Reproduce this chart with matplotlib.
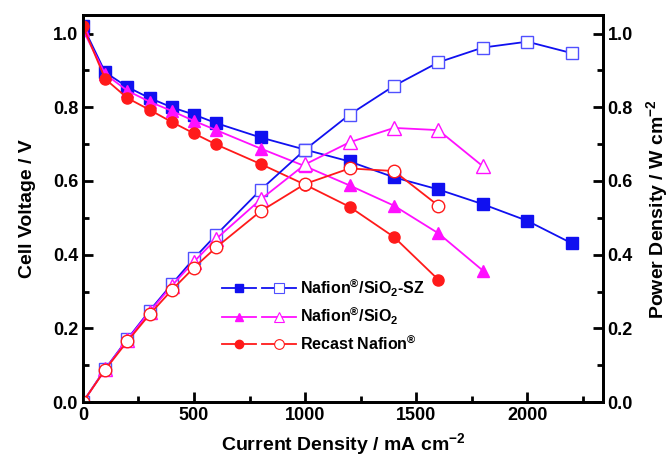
import numpy as np
import matplotlib
matplotlib.use('Agg')
import matplotlib.pyplot as plt
from matplotlib.lines import Line2D
from matplotlib.legend_handler import HandlerTuple
from matplotlib.ticker import MultipleLocator

plt.rcParams['font.family'] = ['Liberation Sans', 'DejaVu Sans']
plt.rcParams['font.weight'] = 'bold'
plt.rcParams['mathtext.fontset'] = 'custom'
plt.rcParams['mathtext.rm'] = 'Liberation Sans:bold'
plt.rcParams['mathtext.bf'] = 'Liberation Sans:bold'
plt.rcParams['mathtext.it'] = 'Liberation Sans:bold'
plt.rcParams['mathtext.default'] = 'bf'

# current density (mA cm-2)
i_sz = [0, 100, 200, 300, 400, 500, 600, 800, 1000, 1200, 1400, 1600, 1800, 2000, 2200]
i_si = [0, 100, 200, 300, 400, 500, 600, 800, 1000, 1200, 1400, 1600, 1800]
i_re = [0, 100, 200, 300, 400, 500, 600, 800, 1000, 1200, 1400, 1600]

# cell voltage (V)
v_sz = [1.02, 0.895, 0.855, 0.825, 0.80, 0.78, 0.757, 0.718, 0.685, 0.653, 0.61, 0.577, 0.537, 0.492, 0.431]
v_si = [1.01, 0.89, 0.845, 0.815, 0.79, 0.763, 0.738, 0.688, 0.64, 0.588, 0.533, 0.458, 0.357]
v_re = [1.02, 0.877, 0.825, 0.793, 0.76, 0.729, 0.699, 0.646, 0.59, 0.53, 0.448, 0.332]

# power density (W cm-2)
p_sz = [0.0, 0.09, 0.171, 0.248, 0.32, 0.39, 0.454, 0.576, 0.685, 0.78, 0.858, 0.922, 0.962, 0.978, 0.947]
p_si = [0.0, 0.089, 0.169, 0.245, 0.316, 0.381, 0.443, 0.55, 0.645, 0.705, 0.744, 0.738, 0.64]
p_re = [0.0, 0.088, 0.165, 0.238, 0.304, 0.365, 0.42, 0.518, 0.592, 0.634, 0.627, 0.533]

labels = [r'Nafion$^{\circledR}$/SiO$_{2}$-SZ',
          r'Nafion$^{\circledR}$/SiO$_{2}$',
          r'Recast Nafion$^{\circledR}$']

blue = '#1010f0'
mag = '#ff10ff'
red = '#ff1a1a'

fig = plt.figure(figsize=(6.69, 4.59), dpi=100)
ax = fig.add_axes([0.124, 0.124, 0.777, 0.843])
ax2 = ax.twinx()

ax.plot(i_sz, v_sz, '-', color=blue, lw=1.3, marker='s', ms=8, mfc=blue, mec=blue, zorder=3)
ax.plot(i_si, v_si, '-', color=mag, lw=1.3, marker='^', ms=9, mfc=mag, mec=mag, zorder=3)
ax.plot(i_re, v_re, '-', color=red, lw=1.3, marker='o', ms=8, mfc=red, mec=red, zorder=3)

ax2.plot(i_sz, p_sz, '-', color=blue, lw=1.3, marker='s', ms=9, mfc='white', mec='#5050ff', mew=1.0)
ax2.plot(i_si, p_si, '-', color=mag, lw=1.3, marker='^', ms=10, mfc='white', mec=mag, mew=1.0)
ax2.plot(i_re, p_re, '-', color=red, lw=1.3, marker='o', ms=9, mfc='white', mec=red, mew=1.0)

ax.set_xlim(0, 2340)
ax.set_ylim(0, 1.05)
ax2.set_ylim(0, 1.05)

ax.xaxis.set_major_locator(MultipleLocator(500))
ax.xaxis.set_minor_locator(MultipleLocator(250))
for a in (ax, ax2):
    a.yaxis.set_major_locator(MultipleLocator(0.2))
    a.yaxis.set_minor_locator(MultipleLocator(0.1))
    a.yaxis.set_major_formatter(plt.FormatStrFormatter('%.1f'))
    for s in a.spines.values():
        s.set_linewidth(2)

ax.tick_params(axis='both', which='both', direction='in', top=False, labelsize=13, width=2)
ax.tick_params(which='major', length=7)
ax.tick_params(which='minor', length=4)
ax2.tick_params(axis='y', which='both', direction='in', labelsize=13, width=2)
ax2.tick_params(which='major', length=7)
ax2.tick_params(which='minor', length=4)

ax.set_xlabel(r'Current Density / mA cm$^{-2}$', fontsize=14, fontweight='bold', labelpad=5)
ax.set_ylabel('Cell Voltage / V', fontsize=14, fontweight='bold', labelpad=12)
ax2.set_ylabel(r'Power Density / W cm$^{-2}$', fontsize=14, fontweight='bold', labelpad=8)

handles = []
for c, m, ec in [(blue, 's', '#5050ff'), (mag, '^', mag), (red, 'o', red)]:
    h1 = Line2D([], [], color=c, lw=1.3, marker=m, ms=6, mfc=c, mec=c)
    h2 = Line2D([], [], color=c, lw=1.3, marker=m, ms=7, mfc='white', mec=ec, mew=0.8)
    handles.append((h1, h2))
ax.legend(handles, labels, handler_map={tuple: HandlerTuple(ndivide=None, pad=0.4)},
          loc='upper left', bbox_to_anchor=(0.24, 0.36), frameon=False,
          handlelength=4.6, fontsize=11.5, labelspacing=0.45, handletextpad=0.3)

fig.savefig('out.png', dpi=100)
